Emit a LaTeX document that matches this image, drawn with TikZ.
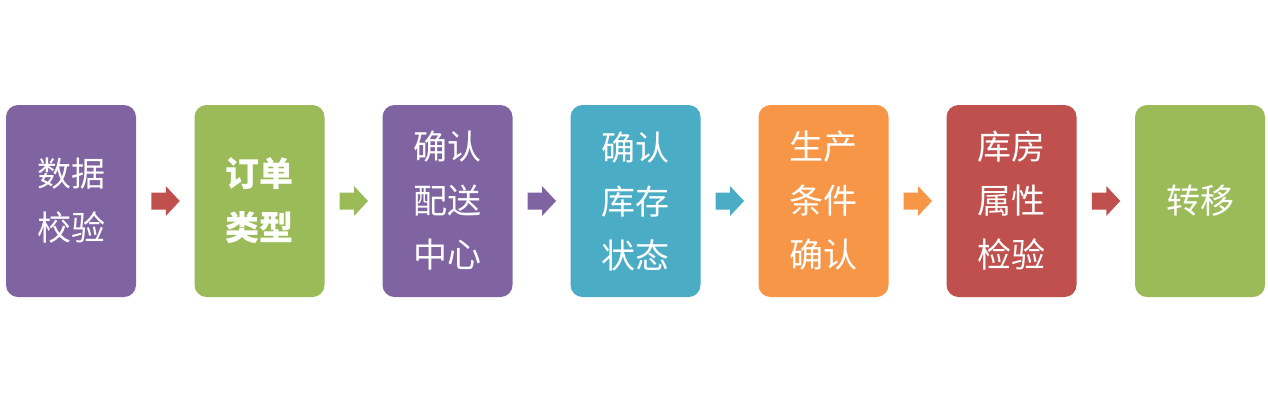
\documentclass[tikz,border=0pt]{standalone}
\usepackage{fontspec}
\newfontfamily\cjk{Noto Sans CJK SC}
\usetikzlibrary{calc}
\definecolor{cpurple}{HTML}{8064A2}
\definecolor{cgreen}{HTML}{9BBB59}
\definecolor{cteal}{HTML}{4BACC6}
\definecolor{corange}{HTML}{F79646}
\definecolor{cred}{HTML}{C0504D}
\newcommand\flowarrow[3]{%
  \path (#1.east) -- (#2.west) coordinate[midway] (m#1);
  \fill[#3] ($(m#1)+(-14,-8.5)$) -- ($(m#1)+(0.5,-8.5)$) -- ($(m#1)+(0.5,-15)$) -- ($(m#1)+(14.5,0)$) -- ($(m#1)+(0.5,15)$) -- ($(m#1)+(0.5,8.5)$) -- ($(m#1)+(-14,8.5)$) -- cycle;}
\begin{document}
\begin{tikzpicture}[x=1pt,y=-1pt,
  box/.style={rounded corners=12pt, minimum width=130pt, minimum height=192pt, inner sep=0pt,
    text=white, align=center, font=\cjk\fontsize{34}{54}\selectfont}]
\useasboundingbox (0,0) rectangle (1268,400);
\fill[white] (0,0) rectangle (1268,400);
\node[box, fill=cpurple] (b1) at (71,201) {数据\\校验};
\node[box, fill=cgreen, font=\cjk\bfseries\fontsize{34}{54}\selectfont] (b2) at (259.5,201) {订单\\类型};
\node[box, fill=cpurple] (b3) at (447.5,201) {确认\\配送\\中心};
\node[box, fill=cteal] (b4) at (635.5,201) {确认\\库存\\状态};
\node[box, fill=corange] (b5) at (823.5,201) {生产\\条件\\确认};
\node[box, fill=cred] (b6) at (1011.5,201) {库房\\属性\\检验};
\node[box, fill=cgreen] (b7) at (1200,201) {转移};
\flowarrow{b1}{b2}{cred}
\flowarrow{b2}{b3}{cgreen}
\flowarrow{b3}{b4}{cpurple}
\flowarrow{b4}{b5}{cteal}
\flowarrow{b5}{b6}{corange}
\flowarrow{b6}{b7}{cred}
\end{tikzpicture}
\end{document}
